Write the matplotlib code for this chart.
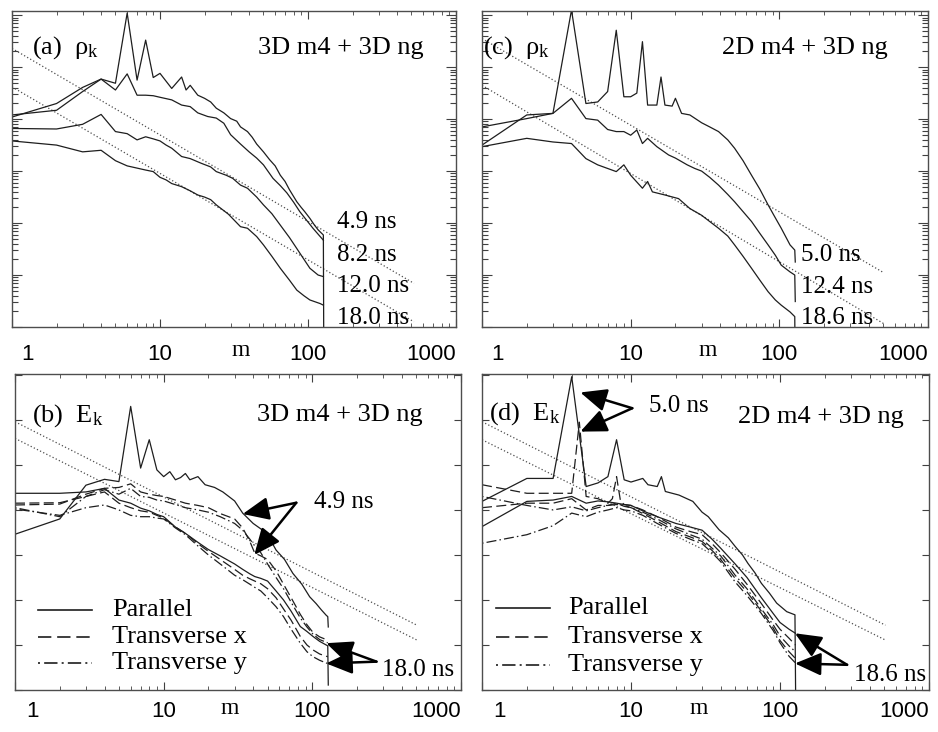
import numpy as np
import matplotlib
matplotlib.use('Agg')
import matplotlib.pyplot as plt
import matplotlib.transforms as mtransforms
from matplotlib.ticker import FixedLocator, NullLocator, NullFormatter

plt.rcParams['font.family'] = 'Liberation Serif'
plt.rcParams['mathtext.fontset'] = 'custom'
plt.rcParams['mathtext.rm'] = 'Liberation Serif'
plt.rcParams['mathtext.it'] = 'Liberation Serif:italic'

# all spectra are stored as log10(amplitude), arbitrary units; m = mode number

# ---- panel (a): rho_k, 3D m4 + 3D ng
m_a49 = [1, 2, 3, 4, 5, 6, 7, 8, 9, 10, 12, 14, 15, 16, 18, 20, 22, 24, 27, 30,
         33, 35, 39, 42, 45, 50, 55, 60, 65, 70, 75, 84, 90, 95, 103, 110, 117, 127, 128]
rho_a49 = [4.04, 4.30, 4.61, 4.77, 4.69, 6.04, 4.75, 5.52, 4.80, 4.88, 4.59, 4.81, 4.56, 4.65, 4.46, 4.40, 4.33, 4.21, 4.12, 4.01,
           3.96, 3.85, 3.76, 3.65, 3.52, 3.37, 3.22, 3.10, 2.92, 2.80, 2.64, 2.41, 2.30, 2.22, 2.09, 1.97, 1.87, 1.77, -1.0]
m_a82 = [1, 2, 3, 4, 5, 6, 7, 8, 9, 10, 12, 14, 16, 18, 21, 24, 27, 30, 35, 40,
         45, 50, 58, 65, 72, 80, 88, 100, 108, 120, 127]
rho_a82 = [4.08, 4.17, 4.53, 4.77, 4.56, 4.87, 4.46, 4.46, 4.45, 4.42, 4.37, 4.27, 4.24, 4.12, 4.05, 4.02, 3.92, 3.70, 3.52, 3.37,
           3.25, 3.12, 2.86, 2.72, 2.58, 2.40, 2.22, 2.02, 1.90, 1.75, 1.67]
m_a120 = [1, 2, 3, 4, 5, 6, 7, 8, 9, 10, 11, 12, 14, 16, 19, 22, 24, 28, 31, 35,
          39, 45, 50, 57, 65, 75, 84, 94, 103, 117, 127]
rho_a120 = [3.82, 3.81, 3.90, 4.09, 3.76, 3.72, 3.60, 3.66, 3.62, 3.58, 3.50, 3.44, 3.28, 3.24, 3.15, 3.08, 2.99, 2.92, 2.86, 2.73,
            2.67, 2.50, 2.35, 2.18, 1.96, 1.72, 1.51, 1.30, 1.13, 1.00, 0.97]
m_a180 = [1, 2, 3, 4, 5, 6, 8, 9, 10, 11, 12, 14, 16, 18, 20, 22, 24, 29, 35, 39,
          45, 50, 57, 65, 75, 84, 94, 103, 121, 127]
rho_a180 = [3.58, 3.50, 3.37, 3.40, 3.20, 3.10, 3.02, 2.99, 2.88, 2.83, 2.76, 2.70, 2.62, 2.54, 2.50, 2.45, 2.35, 2.17, 1.93, 1.90,
            1.74, 1.58, 1.36, 1.13, 0.90, 0.71, 0.60, 0.52, 0.45, 0.42]
fit_a_m = [1, 520]
fit_a_hi = [5.36, 0.84]
fit_a_lo = [4.62, 0.10]
times_a = ['4.9 ns', '8.2 ns', '12.0 ns', '18.0 ns']

# ---- panel (c): rho_k, 2D m4 + 3D ng
m_c50 = [1, 2, 3, 4, 5, 6, 7, 8, 9, 10, 11, 12, 13, 15, 16, 17, 19, 20, 22, 25,
         30, 34, 39, 45, 50, 57, 65, 74, 84, 94, 103, 118, 127, 128]
rho_c50 = [3.85, 4.01, 4.11, 6.10, 4.30, 4.33, 4.53, 5.71, 4.43, 4.43, 4.50, 5.49, 4.27, 4.27, 4.81, 4.27, 4.25, 4.40, 4.11, 4.08,
           3.93, 3.85, 3.76, 3.60, 3.44, 3.20, 2.92, 2.65, 2.35, 2.10, 1.90, 1.58, 1.48, 1.25]
m_c124 = [1, 2, 3, 4, 5, 6, 7, 8, 9, 10, 11, 12, 13, 15, 18, 20, 24, 27, 30, 34,
          39, 45, 50, 57, 65, 74, 84, 94, 103, 118, 127, 128]
rho_c124 = [3.50, 4.08, 4.11, 4.40, 4.01, 3.98, 3.80, 3.76, 3.76, 3.69, 3.79, 3.53, 3.63, 3.47, 3.31, 3.25, 3.12, 3.05, 3.00, 2.88,
            2.73, 2.55, 2.41, 2.22, 2.03, 1.80, 1.58, 1.38, 1.19, 1.06, 1.00, 0.49]
m_c186 = [1, 2, 3, 4, 5, 6, 8, 9, 10, 12, 13, 14, 17, 21, 25, 30, 34, 39, 45, 50,
          57, 65, 74, 84, 94, 103, 118, 127, 128]
rho_c186 = [3.47, 3.63, 3.56, 3.53, 3.24, 3.12, 2.99, 3.12, 2.92, 2.67, 2.80, 2.60, 2.54, 2.47, 2.28, 2.15, 2.03, 1.90, 1.75, 1.58,
            1.36, 1.13, 0.90, 0.68, 0.52, 0.42, 0.29, 0.20, -1.0]
fit_c_m = [1, 500]
fit_c_hi = [5.55, 1.05]
fit_c_lo = [4.65, 0.07]
times_c = ['5.0 ns', '12.4 ns', '18.6 ns']

# ---- panel (b): E_k, 3D m4 + 3D ng
m_b_par49 = [1, 2, 3, 4, 5, 6, 7, 8, 9, 10, 11, 12, 13, 14, 15, 17, 19, 22, 25, 30,
             34, 40, 45, 50, 57, 65, 74, 85, 96, 106, 115, 124, 127, 128]
e_b_par49 = [3.46, 3.80, 4.55, 4.68, 4.63, 6.30, 4.93, 5.56, 4.89, 4.74, 4.85, 4.67, 4.72, 4.81, 4.67, 4.74, 4.56, 4.50, 4.40, 4.20,
             3.93, 3.70, 3.58, 3.45, 3.11, 2.90, 2.59, 2.35, 2.07, 1.92, 1.78, 1.66, 1.63, 1.40]
m_b = [1, 2, 3, 4, 5, 6, 7, 8, 9, 10, 12, 14, 17, 20, 24, 30, 34, 38, 41, 45,
       50, 57, 64, 72, 83, 92, 101, 112, 124, 127]
e_b_tx49 = [4.11, 4.13, 4.35, 4.48, 4.50, 4.58, 4.40, 4.35, 4.32, 4.30, 4.22, 4.15, 4.10, 4.05, 3.92, 3.80, 3.60, 3.30, 3.04, 2.98,
            2.90, 2.65, 2.35, 2.05, 1.68, 1.45, 1.28, 1.18, 1.12, 1.10]
e_b_ty49 = [4.05, 3.85, 4.30, 4.45, 4.35, 4.48, 4.30, 4.28, 4.22, 4.20, 4.12, 4.05, 4.00, 3.95, 3.85, 3.70, 3.55, 3.35, 3.20, 3.05,
            2.80, 2.50, 2.25, 1.95, 1.60, 1.40, 1.24, 1.12, 1.06, 1.05]
m_b_par18 = [1, 2, 3, 4, 5, 6, 7, 8, 9, 10, 12, 14, 17, 20, 24, 30, 34, 38, 41, 45,
             50, 57, 64, 72, 83, 92, 101, 112, 124, 127, 128]
e_b_par18 = [4.37, 4.37, 4.40, 4.48, 4.22, 4.15, 4.04, 3.98, 3.90, 3.85, 3.62, 3.48, 3.28, 3.12, 2.98, 2.80, 2.68, 2.58, 2.52, 2.48,
             2.42, 2.20, 2.00, 1.75, 1.41, 1.30, 1.19, 1.08, 1.00, 0.98, 0.11]
e_b_tx18 = [4.15, 4.16, 4.30, 4.40, 4.15, 4.05, 3.98, 3.95, 3.88, 3.82, 3.62, 3.48, 3.25, 3.08, 2.90, 2.68, 2.55, 2.47, 2.42, 2.36,
            2.25, 2.05, 1.80, 1.55, 1.19, 1.00, 0.89, 0.80, 0.75, 0.74]
e_b_ty18 = [4.02, 3.88, 4.05, 4.11, 4.00, 3.88, 3.85, 3.85, 3.82, 3.80, 3.60, 3.45, 3.20, 3.00, 2.80, 2.55, 2.45, 2.35, 2.28, 2.20,
            2.05, 1.85, 1.63, 1.35, 1.04, 0.85, 0.74, 0.66, 0.60, 0.59]
fit_b_m = [1, 505]
fit_b_hi = [5.96, 1.44]
fit_b_lo = [5.59, 1.11]

# ---- panel (d): E_k, 2D m4 + 3D ng
m_d_par50 = [1, 2, 3, 4, 5, 6, 7, 8, 9, 10, 12, 13, 15, 16, 17, 21, 26, 30, 33, 39,
             45, 50, 56, 61, 68, 75, 85, 95, 111, 126, 128]
e_d_par50 = [4.19, 4.70, 4.70, 6.96, 4.52, 4.60, 4.74, 5.56, 4.67, 4.62, 4.70, 4.56, 4.52, 4.74, 4.41, 4.33, 4.19, 3.95, 3.85, 3.56,
             3.38, 3.19, 3.00, 2.81, 2.60, 2.37, 2.15, 1.93, 1.74, 1.67, -1.0]
m_d_tx50 = [1, 2, 3, 4, 4.5, 5, 6, 7, 7.5, 8, 8.5, 9, 10, 12, 15, 20, 25, 30, 35, 40,
            50, 60, 75, 90, 100, 115, 127]
e_d_tx50 = [4.56, 4.37, 4.37, 4.37, 5.95, 4.30, 4.25, 4.15, 4.25, 4.74, 4.20, 4.12, 4.10, 4.00, 3.85, 3.62, 3.52, 3.45, 3.25, 3.05,
            2.68, 2.35, 1.92, 1.55, 1.35, 1.15, 1.00]
m_d = [1, 2, 3, 4, 5, 6, 7, 8, 9, 10, 12, 15, 20, 25, 30, 35, 40, 50, 60, 75,
       90, 100, 115, 127]
e_d_ty50 = [4.30, 4.10, 4.00, 4.07, 3.98, 4.05, 4.10, 4.12, 4.10, 4.05, 3.95, 3.80, 3.58, 3.45, 3.35, 3.15, 2.98, 2.55, 2.25, 1.80,
            1.45, 1.20, 0.98, 0.85]
e_d_par186 = [3.63, 4.19, 4.22, 4.30, 4.15, 4.20, 4.18, 4.15, 4.12, 4.10, 3.98, 3.85, 3.70, 3.62, 3.55, 3.35, 3.15, 2.80, 2.50, 2.05,
              1.70, 1.50, 1.35, 1.26]
e_d_tx186 = [4.05, 4.15, 4.15, 4.25, 4.00, 4.10, 4.10, 4.15, 4.08, 4.05, 3.92, 3.75, 3.52, 3.40, 3.30, 3.10, 2.90, 2.48, 2.18, 1.75,
             1.38, 1.10, 0.85, 0.70]
e_d_ty186 = [3.26, 3.45, 3.65, 3.93, 3.85, 3.95, 4.00, 4.05, 4.00, 3.98, 3.88, 3.70, 3.48, 3.35, 3.25, 3.05, 2.85, 2.40, 2.10, 1.70,
             1.32, 1.05, 0.75, 0.60]
fit_d_m = [1, 510]
fit_d_hi = [5.96, 1.44]
fit_d_lo = [5.56, 1.11]

x_ticks = [1, 10, 100, 1000]
x_ticklabels = ['1', '10', '100', '1000']
legend_labels = ['Parallel', 'Transverse x', 'Transverse y']

LC = '#1e1e1e'
SOLID = '-'
DASH = (0, (8, 3.5))
DASHDOT = (0, (1.2, 2.5, 8, 2.5))
DOT = (0, (1, 1.8))


def curve(ax, m, logv, ls=SOLID, lw=0.9, color=LC):
    ax.plot(m, 10.0 ** np.array(logv), ls=ls, lw=lw, color=color)


def log_minor(lo, hi):
    return [s * 10.0 ** i for i in range(lo, hi) for s in range(2, 10)]


def setup(ax, ytop, yminor, pad, first_shift):
    ax.set_xscale('log')
    ax.set_yscale('log')
    ax.set_xlim(1, 1000)
    ax.set_ylim(1, 10 ** ytop)
    ax.set_xticks(x_ticks)
    ax.set_xticklabels(x_ticklabels, fontfamily='Liberation Sans', fontsize=16)
    ax.xaxis.set_minor_locator(FixedLocator(log_minor(0, 3)))
    ax.xaxis.set_minor_formatter(NullFormatter())
    ax.yaxis.set_major_locator(FixedLocator([10.0 ** i for i in range(0, 8)]))
    if yminor:
        ax.yaxis.set_minor_locator(FixedLocator(log_minor(0, 7)))
    else:
        ax.yaxis.set_minor_locator(NullLocator())
    ax.yaxis.set_major_formatter(NullFormatter())
    ax.yaxis.set_minor_formatter(NullFormatter())
    ax.tick_params(which='both', direction='in', top=True, right=True, colors='0.25')
    ax.tick_params(axis='x', which='major', length=6, pad=pad, labelcolor='black')
    ax.tick_params(axis='x', which='minor', length=3)
    ax.tick_params(axis='y', which='major', length=7 if yminor else 5)
    ax.tick_params(axis='y', which='minor', length=4, width=0.8)
    for s in ax.spines.values():
        s.set_linewidth(1.0)
        s.set_color('0.3')
    labs = ax.get_xticklabels()
    labs[0].set_horizontalalignment('left')
    labs[0].set_transform(labs[0].get_transform() +
                          mtransforms.ScaledTranslation(first_shift / 100, 0, fig.dpi_scale_trans))
    labs[-1].set_horizontalalignment('right')


def arrow(ax, tip, tail):
    ax.annotate('', xy=tip, xytext=tail,
                arrowprops=dict(arrowstyle='-|>,head_length=0.8,head_width=0.35',
                                mutation_scale=20, lw=1.8, color='black',
                                shrinkA=0, shrinkB=0))


def legend(ax, x0, x1, xt, ys):
    for y, ls, lab in zip(ys, [SOLID, DASH, DASHDOT], legend_labels):
        ax.plot([x0, x1], [y, y], transform=ax.transAxes, ls=ls, lw=1.2, color=LC)
        ax.text(xt, y, lab, transform=ax.transAxes, va='center', ha='left', fontsize=19)


fig = plt.figure(figsize=(9.38, 7.32), dpi=100)
ax_a = fig.add_axes([12 / 938, 405 / 732, 444 / 938, 316 / 732])
ax_c = fig.add_axes([482 / 938, 405 / 732, 446 / 938, 316 / 732])
ax_b = fig.add_axes([15 / 938, 42 / 732, 446 / 938, 316 / 732])
ax_d = fig.add_axes([482 / 938, 42 / 732, 447 / 938, 316 / 732])

# ---------------- (a)
ax = ax_a
curve(ax, fit_a_m, fit_a_hi, ls=DOT, lw=0.9, color='0.3')
curve(ax, fit_a_m, fit_a_lo, ls=DOT, lw=0.9, color='0.3')
curve(ax, m_a49, rho_a49)
curve(ax, m_a82, rho_a82)
curve(ax, m_a120, rho_a120)
curve(ax, m_a180, rho_a180)
setup(ax, 6.08, True, 12, 9)
ax.text(0.044, 0.883, r'(a)  ρ$_{\mathrm{k}}$', transform=ax.transAxes, fontsize=19, va='center')
ax.text(0.926, 0.883, '3D m4 + 3D ng', transform=ax.transAxes, fontsize=19, va='center', ha='right')
for y, t in zip([0.333, 0.228, 0.130, 0.0275], times_a):
    ax.text(0.731, y, t, transform=ax.transAxes, fontsize=18, va='center', ha='left')
ax.text(0.514, -0.075, 'm', transform=ax.transAxes, fontsize=17, va='center', ha='center')

# ---------------- (c)
ax = ax_c
curve(ax, fit_c_m, fit_c_hi, ls=DOT, lw=0.9, color='0.3')
curve(ax, fit_c_m, fit_c_lo, ls=DOT, lw=0.9, color='0.3')
curve(ax, m_c50, rho_c50)
curve(ax, m_c124, rho_c124)
curve(ax, m_c186, rho_c186)
setup(ax, 6.08, True, 12, 9)
ax.text(0.003, 0.883, r'(c)  ρ$_{\mathrm{k}}$', transform=ax.transAxes, fontsize=19, va='center')
ax.text(0.909, 0.883, '2D m4 + 3D ng', transform=ax.transAxes, fontsize=19, va='center', ha='right')
for y, t in zip([0.228, 0.128, 0.0275], times_c):
    ax.text(0.716, y, t, transform=ax.transAxes, fontsize=18, va='center', ha='left')
ax.text(0.507, -0.075, 'm', transform=ax.transAxes, fontsize=17, va='center', ha='center')

# ---------------- (b)
ax = ax_b
curve(ax, fit_b_m, fit_b_hi, ls=DOT, lw=0.9, color='0.3')
curve(ax, fit_b_m, fit_b_lo, ls=DOT, lw=0.9, color='0.3')
curve(ax, m_b_par49, e_b_par49)
curve(ax, m_b, e_b_tx49, ls=DASH)
curve(ax, m_b, e_b_ty49, ls=DASHDOT)
curve(ax, m_b_par18, e_b_par18)
curve(ax, m_b, e_b_tx18, ls=DASH)
curve(ax, m_b, e_b_ty18, ls=DASHDOT)
setup(ax, 7.02, False, 8, 11)
ax.text(0.037, 0.870, r'(b)  E$_{\mathrm{k}}$', transform=ax.transAxes, fontsize=19, va='center')
ax.text(0.915, 0.870, '3D m4 + 3D ng', transform=ax.transAxes, fontsize=19, va='center', ha='right')
ax.text(103, 10 ** 4.18, '4.9 ns', fontsize=18, va='center', ha='left')
arrow(ax, (34, 10 ** 3.91), (78, 10 ** 4.16))
arrow(ax, (40.7, 10 ** 3.0), (78, 10 ** 4.16))
ax.text(292, 10 ** 0.44, '18.0 ns', fontsize=18, va='center', ha='left')
arrow(ax, (124, 10 ** 1.04), (270, 10 ** 0.63))
arrow(ax, (124, 10 ** 0.59), (270, 10 ** 0.63))
legend(ax, 0.052, 0.172, 0.217, [0.253, 0.169, 0.0845])
ax.text(0.482, -0.058, 'm', transform=ax.transAxes, fontsize=17, va='center', ha='center')

# ---------------- (d)
ax = ax_d
curve(ax, fit_d_m, fit_d_hi, ls=DOT, lw=0.9, color='0.3')
curve(ax, fit_d_m, fit_d_lo, ls=DOT, lw=0.9, color='0.3')
curve(ax, m_d_par50, e_d_par50)
curve(ax, m_d_tx50, e_d_tx50, ls=DASH)
curve(ax, m_d, e_d_ty50, ls=DASHDOT)
curve(ax, m_d, e_d_par186)
curve(ax, m_d, e_d_tx186, ls=DASH)
curve(ax, m_d, e_d_ty186, ls=DASHDOT)
setup(ax, 7.02, False, 8, 11)
ax.text(0.015, 0.876, r'(d)  E$_{\mathrm{k}}$', transform=ax.transAxes, fontsize=19, va='center')
ax.text(0.944, 0.865, '2D m4 + 3D ng', transform=ax.transAxes, fontsize=19, va='center', ha='right')
ax.text(13.2, 10 ** 6.30, '5.0 ns', fontsize=18, va='center', ha='left')
arrow(ax, (4.57, 10 ** 6.61), (10.2, 10 ** 6.26))
arrow(ax, (4.57, 10 ** 5.74), (10.2, 10 ** 6.26))
ax.text(313, 10 ** 0.33, '18.6 ns', fontsize=18, va='center', ha='left')
arrow(ax, (126, 10 ** 1.26), (282, 10 ** 0.56))
arrow(ax, (126, 10 ** 0.59), (282, 10 ** 0.56))
legend(ax, 0.032, 0.152, 0.193, [0.258, 0.169, 0.079])
ax.text(0.484, -0.058, 'm', transform=ax.transAxes, fontsize=17, va='center', ha='center')

fig.savefig('out.png', dpi=100)
